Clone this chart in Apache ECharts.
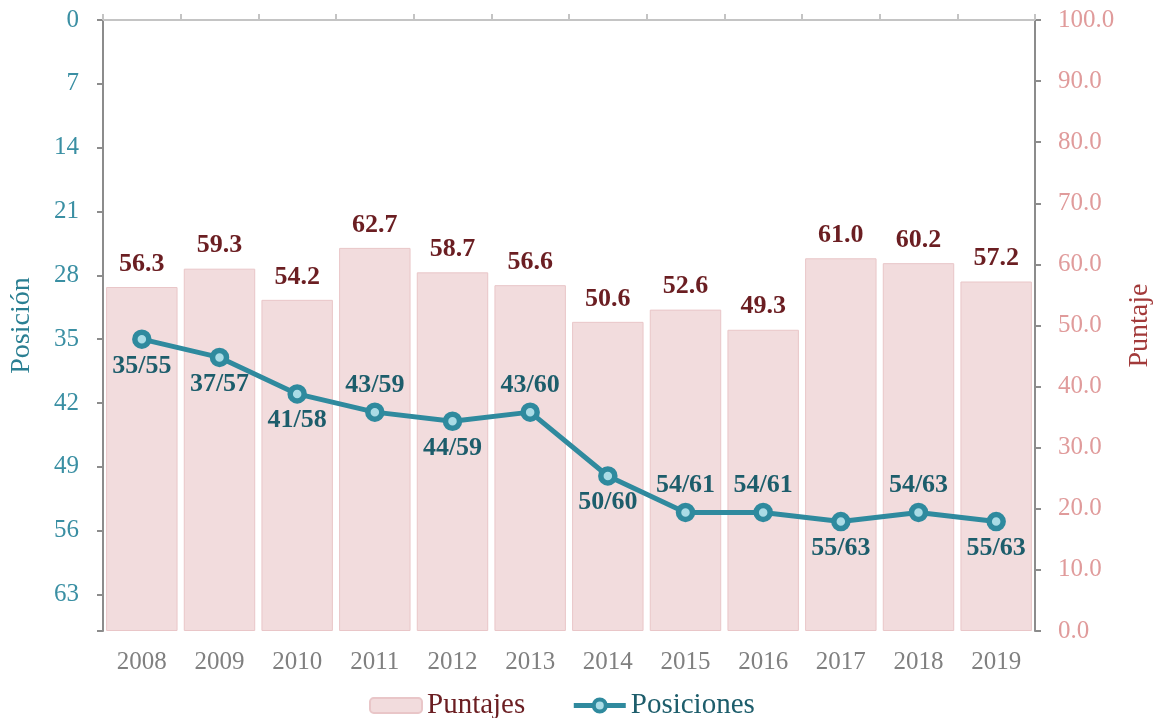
<!DOCTYPE html>
<html>
<head>
<meta charset="utf-8">
<script src="https://cdn.jsdelivr.net/npm/echarts@6/dist/echarts.min.js"></script>
<style>
  html, body { margin: 0; padding: 0; background: #fff; }
  #chart { width: 1154px; height: 718px; }
</style>
</head>
<body>
<div id="chart"></div>
<script>
  var years = ['2008', '2009', '2010', '2011', '2012', '2013', '2014', '2015', '2016', '2017', '2018', '2019'];
  var puntajes = [56.3, 59.3, 54.2, 62.7, 58.7, 56.6, 50.6, 52.6, 49.3, 61.0, 60.2, 57.2];
  var posiciones = [35, 37, 41, 43, 44, 43, 50, 54, 54, 55, 54, 55];
  var totales = [55, 57, 58, 59, 59, 60, 60, 61, 61, 63, 63, 63];
  var labelSide = ['bottom', 'bottom', 'bottom', 'top', 'bottom', 'top', 'bottom', 'top', 'top', 'bottom', 'top', 'bottom'];

  var serif = '"Liberation Serif", "DejaVu Serif", serif';
  var teal = '#2f8a9e';
  var tealDark = '#1d5d6b';
  var maroon = '#6b1e22';

  var chart = echarts.init(document.getElementById('chart'), null, { renderer: 'canvas' });
  chart.setOption({
    animation: false,
    textStyle: { fontFamily: serif },
    grid: { left: 103, right: 119, top: 20, bottom: 87, containLabel: false, outerBoundsMode: 'none' },
    legend: {
      top: 686,
      left: 364,
      itemWidth: 52,
      itemHeight: 15,
      itemGap: 46,
      textStyle: { fontFamily: serif, fontSize: 29, padding: [0, 0, 0, 0] },
      data: [
        { name: 'Puntajes', textStyle: { color: maroon } },
        {
          name: 'Posiciones', textStyle: { color: tealDark },
          lineStyle: { width: 5, color: teal },
          itemStyle: { color: '#a9dce6', borderColor: teal, borderWidth: 4 }
        }
      ]
    },
    xAxis: [{
      type: 'category',
      position: 'top',
      data: years,
      boundaryGap: true,
      axisLine: { lineStyle: { color: '#c4c4c4', width: 2 } },
      axisTick: { show: true, length: 6, lineStyle: { color: '#c4c4c4', width: 2 } },
      axisLabel: { show: false },
      splitLine: { show: false }
    }, {
      type: 'category',
      position: 'bottom',
      data: years,
      boundaryGap: true,
      axisLine: { show: false },
      axisTick: { show: false },
      axisLabel: { color: '#808080', fontSize: 25, fontFamily: serif, margin: 19 },
      splitLine: { show: false }
    }],
    yAxis: [{
      type: 'value',
      position: 'left',
      inverse: true,
      min: 0, max: 67, interval: 7,
      name: 'Posición',
      nameLocation: 'middle',
      nameGap: 67,
      nameRotate: 90,
      nameTextStyle: { color: '#2a7f92', fontSize: 28, fontFamily: serif },
      axisLine: { show: true, lineStyle: { color: '#8c8c8c', width: 2 } },
      axisTick: { show: true, length: 6, lineStyle: { color: '#8c8c8c', width: 2 } },
      axisLabel: {
        color: '#3a8fa3', fontSize: 25, fontFamily: serif, margin: 24,
        formatter: function (v) { return v % 7 === 0 ? String(v) : ''; }
      },
      splitLine: { show: false }
    }, {
      type: 'value',
      position: 'right',
      min: 0, max: 100, interval: 10,
      name: 'Puntaje',
      nameLocation: 'middle',
      nameGap: 80,
      nameRotate: 90,
      nameTextStyle: { color: '#a23a3a', fontSize: 28, fontFamily: serif },
      axisLine: { show: true, lineStyle: { color: '#8c8c8c', width: 2 } },
      axisTick: { show: true, length: 6, lineStyle: { color: '#8c8c8c', width: 2 } },
      axisLabel: {
        color: '#e09b9b', fontSize: 25, fontFamily: serif, margin: 23,
        formatter: function (v) { return v.toFixed(1); }
      },
      splitLine: { show: false }
    }],
    series: [{
      name: 'Puntajes',
      type: 'bar',
      xAxisIndex: 1,
      yAxisIndex: 1,
      barCategoryGap: '8%',
      data: puntajes,
      itemStyle: { color: '#f2dcdd', borderColor: '#e9c6c8', borderWidth: 1 },
      label: {
        show: true,
        position: 'top',
        distance: 10,
        color: maroon,
        fontSize: 26,
        fontWeight: 'bold',
        fontFamily: serif,
        formatter: function (p) { return p.value.toFixed(1); }
      },
      emphasis: { disabled: true },
      z: 1
    }, {
      name: 'Posiciones',
      type: 'line',
      xAxisIndex: 0,
      yAxisIndex: 0,
      data: posiciones.map(function (v, i) {
        return { value: v, label: { position: labelSide[i] } };
      }),
      symbol: 'circle',
      symbolSize: 14,
      lineStyle: { color: teal, width: 5 },
      itemStyle: { color: '#a9dce6', borderColor: teal, borderWidth: 5.5 },
      label: {
        show: true,
        distance: 4,
        color: tealDark,
        fontSize: 26,
        fontWeight: 'bold',
        fontFamily: serif,
        formatter: function (p) { return p.value + '/' + totales[p.dataIndex]; }
      },
      emphasis: { disabled: true },
      z: 3
    }]
  });
  window.addEventListener('resize', function () { chart.resize(); });
</script>
</body>
</html>
